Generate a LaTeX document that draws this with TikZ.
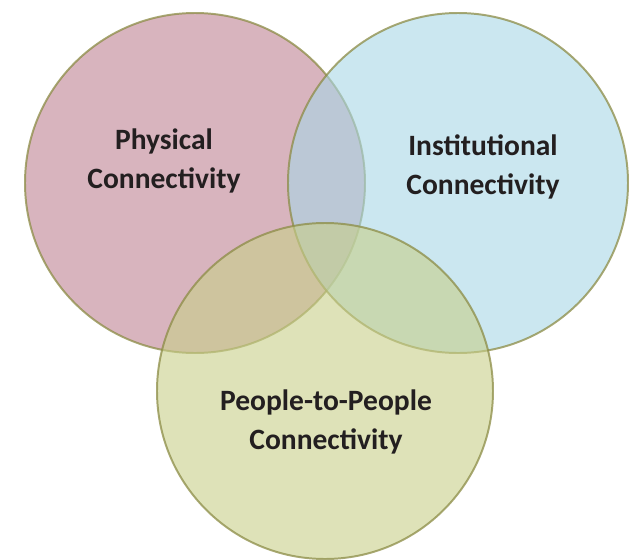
\documentclass[tikz,border=0pt]{standalone}
\usepackage{fontspec}
\setmainfont{Carlito}
\definecolor{rimolive}{RGB}{140,140,70}
\definecolor{physfill}{RGB}{190,130,147}
\definecolor{instfill}{RGB}{168,215,230}
\definecolor{peoplefill}{RGB}{200,207,137}
\definecolor{labeltext}{RGB}{35,31,32}
\begin{document}
\begin{tikzpicture}[x=0.025cm,y=-0.025cm,
    venn/.style={draw=rimolive,line width=1.4pt,draw opacity=0.75,fill opacity=0.6},
    caption/.style={font=\fontsize{21}{28}\selectfont\bfseries,text=labeltext,align=center}]
  \useasboundingbox (0,0) rectangle (634,560);

  % three overlapping circles
  \draw[venn,fill=physfill] (195,183) circle (170);
  \draw[venn,fill=instfill] (458,183) circle (170);
  \draw[venn,fill=peoplefill] (325,391) circle (168);

  % labels
  \node[caption] (physical) at (164,161) {Physical\\Connectivity};
  \node[caption] (institutional) at (483,167) {Institutional\\Connectivity};
  \node[caption] (people) at (326,422) {People-to-People\\Connectivity};
\end{tikzpicture}
\end{document}
